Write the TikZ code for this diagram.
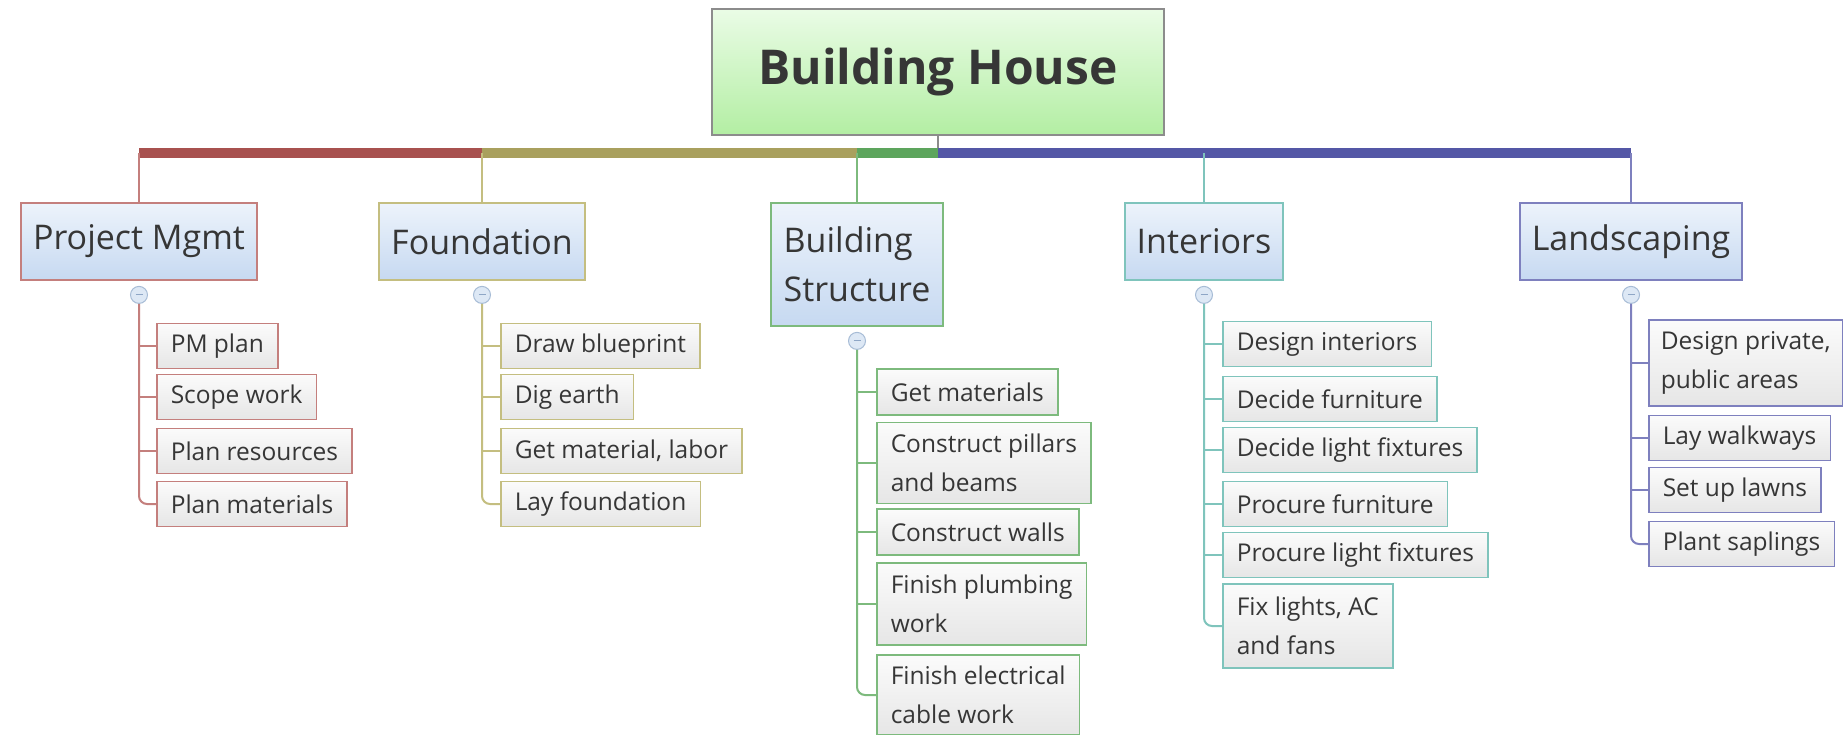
\documentclass[tikz,border=0pt]{standalone}
\usepackage{fontspec}
\setmainfont{Open Sans}
\usetikzlibrary{calc}
\definecolor{txt}{HTML}{363636}
\definecolor{pmbar}{HTML}{A8514F}
\definecolor{pmln}{HTML}{C47F7D}
\definecolor{fdbar}{HTML}{A9A05E}
\definecolor{fdln}{HTML}{C4BE80}
\definecolor{bsbar}{HTML}{5DA55D}
\definecolor{bsln}{HTML}{7DBA7D}
\definecolor{inln}{HTML}{7FC4BC}
\definecolor{lsbar}{HTML}{5457A6}
\definecolor{lsln}{HTML}{7E80BE}
\definecolor{roottop}{HTML}{EAFCE6}
\definecolor{rootbot}{HTML}{B3EEA3}
\definecolor{maintop}{HTML}{EDF3FB}
\definecolor{mainbot}{HTML}{C6D9F1}
\definecolor{chtop}{HTML}{FBFBFB}
\definecolor{chbot}{HTML}{E6E6E6}
\definecolor{colbd}{HTML}{A7BCD6}
\definecolor{colfl}{HTML}{DDE8F5}
\definecolor{colmn}{HTML}{8EA6C6}
\tikzset{
  rootbox/.style={draw=black!45, line width=2pt, top color=roottop, bottom color=rootbot,
    minimum width=452pt, minimum height=126pt, inner sep=0pt, text=txt,
    font=\fontsize{48}{58}\selectfont\bfseries},
  mainbox/.style={draw=#1, line width=1.8pt, top color=maintop, bottom color=mainbot,
    minimum height=77pt, inner xsep=12pt, inner ysep=0pt, text=txt, align=left,
    font=\fontsize{34}{49}\selectfont},
  childbox/.style={draw=#1, line width=1.5pt, top color=chtop, bottom color=chbot,
    anchor=west, minimum height=45pt, inner xsep=14pt, inner ysep=0pt, text=txt, align=left,
    font=\fontsize{24.5}{39}\selectfont},
  collapse/.style={circle, draw=colbd, fill=colfl, line width=1pt,
    minimum size=17pt, inner sep=0pt,
    path picture={\draw[colmn, line width=1pt]
      ($(path picture bounding box.center)+(-3.5,0)$) -- ++(7,0);}},
  branch/.style={draw=#1, line width=2pt, rounded corners=8pt},
  drop/.style={draw=#1, line width=1.5pt},
  barseg/.style={draw=#1, line width=10pt},
}
\begin{document}
\begin{tikzpicture}[x=1pt,y=-1pt]
\useasboundingbox (0,0) rectangle (1843,735);
\clip (0,0) rectangle (1843,735);
\fill[white] (0,0) rectangle (1843,735);

% root
\node[rootbox] (root) at (938,72) {Building House};
\coordinate (bar) at (0,153);

% main nodes
\node[mainbox=pmln] (pm) at (139,241.5) {Project Mgmt};
\node[mainbox=fdln] (fd) at (482,241.5) {Foundation};
\node[mainbox=bsln, minimum height=123pt, minimum width=172pt] (bs) at (857,264.5) {Building\\Structure};
\node[mainbox=inln] (in) at (1204,241.5) {Interiors};
\node[mainbox=lsln] (ls) at (1631,241.5) {Landscaping};

% bar
\draw[drop=black!45] (root.south) -- (root.south |- bar);
\draw[barseg=pmbar] (pm.north |- bar) -- (fd.north |- bar);
\draw[barseg=fdbar] (fd.north |- bar) -- (bs.north |- bar);
\draw[barseg=bsbar] (bs.north |- bar) -- (root.south |- bar);
\draw[barseg=lsbar] (root.south |- bar) -- (ls.north |- bar);
\draw[drop=pmln] (pm.north |- bar) -- (pm.north);
\draw[drop=fdln] (fd.north |- bar) -- (fd.north);
\draw[drop=bsln] (bs.north |- bar) -- (bs.north);
\draw[drop=inln] (in.north |- bar) -- (in.north);
\draw[drop=lsln] (ls.north |- bar) -- (ls.north);

% collapse circles
\node[collapse] (pmc) at ($(pm.south)+(0,14)$) {};
\node[collapse] (fdc) at ($(fd.south)+(0,14)$) {};
\node[collapse] (bsc) at ($(bs.south)+(0,14)$) {};
\node[collapse] (inc) at ($(in.south)+(0,14)$) {};
\node[collapse] (lsc) at ($(ls.south)+(0,14)$) {};

% PM children
\node[childbox=pmln] (pm1) at (156,346) {PM plan};
\node[childbox=pmln] (pm2) at (156,397) {Scope work};
\node[childbox=pmln] (pm3) at (156,451) {Plan resources};
\node[childbox=pmln] (pm4) at (156,504) {Plan materials};
\draw[branch=pmln] (pmc.south) |- (pm4.west);
\foreach \c in {pm1,pm2,pm3} \draw[branch=pmln] (pmc.south |- \c.west) -- (\c.west);

% Foundation children
\node[childbox=fdln] (fd1) at (500,346) {Draw blueprint};
\node[childbox=fdln] (fd2) at (500,397) {Dig earth};
\node[childbox=fdln] (fd3) at (500,451) {Get material, labor};
\node[childbox=fdln] (fd4) at (500,504) {Lay foundation};
\draw[branch=fdln] (fdc.south) |- (fd4.west);
\foreach \c in {fd1,fd2,fd3} \draw[branch=fdln] (fdc.south |- \c.west) -- (\c.west);

% Building structure children
\node[childbox=bsln, minimum height=46pt] (bs1) at (876,392) {Get materials};
\node[childbox=bsln, minimum height=81pt] (bs2) at (876,463) {Construct pillars\\and beams};
\node[childbox=bsln, minimum height=46pt] (bs3) at (876,532) {Construct walls};
\node[childbox=bsln, minimum height=82pt] (bs4) at (876,604) {Finish plumbing\\work};
\node[childbox=bsln, minimum height=80pt] (bs5) at (876,695) {Finish electrical\\cable work};
\draw[branch=bsln] (bsc.south) |- (bs5.west);
\foreach \c in {bs1,bs2,bs3,bs4} \draw[branch=bsln] (bsc.south |- \c.west) -- (\c.west);

% Interiors children
\node[childbox=inln] (in1) at (1222,344) {Design interiors};
\node[childbox=inln] (in2) at (1222,399) {Decide furniture};
\node[childbox=inln] (in3) at (1222,450) {Decide light fixtures};
\node[childbox=inln] (in4) at (1222,504) {Procure furniture};
\node[childbox=inln] (in5) at (1222,555) {Procure light fixtures};
\node[childbox=inln, minimum height=84pt] (in6) at (1222,626) {Fix lights, AC\\and fans};
\draw[branch=inln] (inc.south) |- (in6.west);
\foreach \c in {in1,in2,in3,in4,in5} \draw[branch=inln] (inc.south |- \c.west) -- (\c.west);

% Landscaping children
\node[childbox=lsln, minimum height=86pt, inner xsep=12pt] (ls1) at (1648,363) {Design private,\\public areas};
\node[childbox=lsln] (ls2) at (1648,438) {Lay walkways};
\node[childbox=lsln] (ls3) at (1648,490) {Set up lawns};
\node[childbox=lsln] (ls4) at (1648,544) {Plant saplings};
\draw[branch=lsln] (lsc.south) |- (ls4.west);
\foreach \c in {ls1,ls2,ls3} \draw[branch=lsln] (lsc.south |- \c.west) -- (\c.west);
\end{tikzpicture}
\end{document}
